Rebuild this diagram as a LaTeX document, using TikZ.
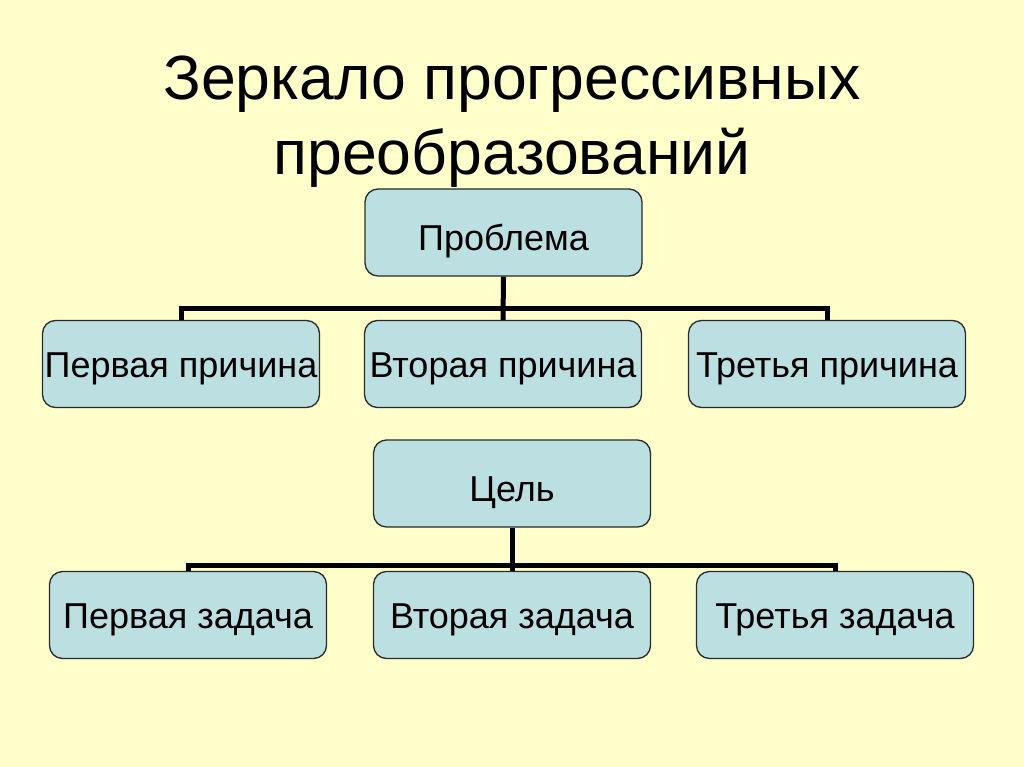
\documentclass[tikz,border=0pt]{standalone}
\usepackage{fontspec}
\setmainfont{Liberation Sans}
\definecolor{bg}{HTML}{FFFFCC}
\definecolor{boxfill}{HTML}{BCE0E2}
\definecolor{boxline}{HTML}{2A2A2A}
\begin{document}
\begin{tikzpicture}[x=1pt,y=-1pt,
  box/.style={draw=boxline,fill=boxfill,line width=1.3pt,rounded corners=13pt,
    minimum width=277pt,minimum height=87pt,inner sep=0pt,text depth=0pt,text height=26pt,
    font=\fontsize{36}{40}\selectfont},
  topbox/.style={box,text height=35pt},
  conn/.style={line width=5pt,draw=black}]
\fill[bg] (0,0) rectangle (1024,767);
\useasboundingbox (0,0) rectangle (1024,767);
\node[font=\fontsize{62.5}{75}\selectfont,align=center] (title) at (512,122) {Зеркало прогрессивных\\преобразований};
\node[topbox] (prob) at (503.5,232.5) {Проблема};
\node[box] (c1) at (181,364) {Первая причина};
\node[box] (c2) at (503,364) {Вторая причина};
\node[box] (c3) at (827,364) {Третья причина};
\node[topbox] (goal) at (512,483.5) {Цель};
\node[box] (t1) at (188,615) {Первая задача};
\node[box] (t2) at (512,615) {Вторая задача};
\node[box] (t3) at (835,615) {Третья задача};
\coordinate (bus1) at (503,308);
\coordinate (bus2) at (512,565);
\draw[conn] (prob.south) -- (c2.north);
\draw[conn] (c1.north) -- (c1.north |- bus1) -- (c3.north |- bus1) -- (c3.north);
\draw[conn] (goal.south) -- (t2.north);
\draw[conn] (t1.north) -- (t1.north |- bus2) -- (t3.north |- bus2) -- (t3.north);
\end{tikzpicture}
\end{document}
